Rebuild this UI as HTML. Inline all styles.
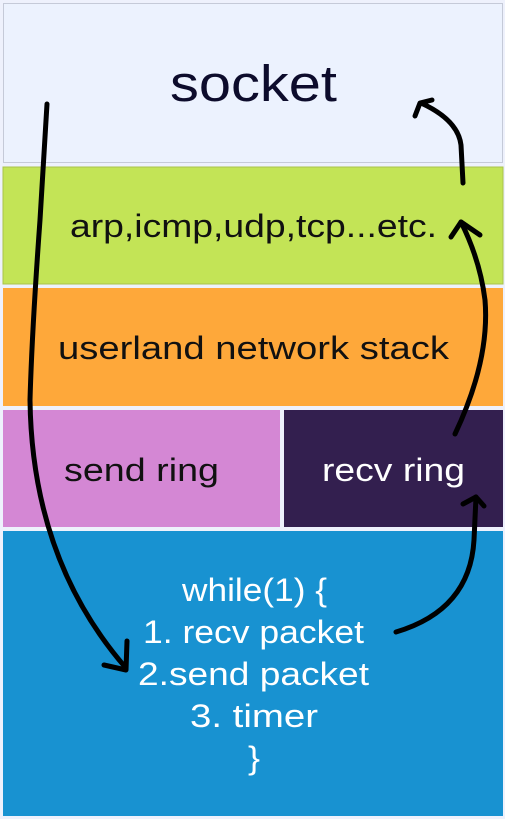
<!DOCTYPE html>
<html><head><meta charset="utf-8"><style>
html,body{margin:0;padding:0;background:#eef1fc;}
svg{display:block}
text{font-family:"Liberation Sans",sans-serif;}
</style></head><body>
<svg width="505" height="819" viewBox="0 0 505 819" xmlns="http://www.w3.org/2000/svg">
<rect x="0" y="0" width="505" height="819" fill="#eef1fc"/>
<rect x="3.5" y="3.5" width="499" height="159" fill="#ecf2fe" stroke="#c5cad8"/>
<rect x="3" y="167" width="500" height="117" fill="#c3e456" stroke="#a9c24c" stroke-width="1"/>
<rect x="3" y="288" width="500" height="118" fill="#fea83a"/>
<rect x="3" y="410" width="277" height="117" fill="#d487d4"/>
<rect x="284" y="410" width="219" height="117" fill="#331f4f"/>
<rect x="3" y="531" width="500" height="285" fill="#1892d1"/>

<text x="170" y="101" font-size="51" fill="#0d0c2c" textLength="167" lengthAdjust="spacingAndGlyphs">socket</text>
<text x="70" y="237" font-size="32" fill="#111" textLength="367" lengthAdjust="spacingAndGlyphs">arp,icmp,udp,tcp...etc.</text>
<text x="58" y="359" font-size="32" fill="#111" textLength="391" lengthAdjust="spacingAndGlyphs">userland network stack</text>
<text x="64" y="481" font-size="32" fill="#111" textLength="155" lengthAdjust="spacingAndGlyphs">send ring</text>
<text x="322" y="481" font-size="32" fill="#fff" textLength="143" lengthAdjust="spacingAndGlyphs">recv ring</text>
<g fill="#fff" font-size="32">
<text x="182" y="601" textLength="145" lengthAdjust="spacingAndGlyphs">while(1) {</text>
<text x="143" y="643" textLength="221" lengthAdjust="spacingAndGlyphs">1. recv packet</text>
<text x="138" y="685" textLength="231" lengthAdjust="spacingAndGlyphs">2.send packet</text>
<text x="190" y="727" textLength="128" lengthAdjust="spacingAndGlyphs">3. timer</text>
<text x="248" y="769" textLength="12" lengthAdjust="spacingAndGlyphs">}</text>
</g>

<g fill="none" stroke="#000" stroke-width="5" stroke-linecap="round" stroke-linejoin="round">
<path d="M47,104 L40,220 Q32,330 30,400 Q32,560 126,668"/>
<path d="M104,665 L126,670 L127,641"/>
<path d="M396,632 Q470,610 474,540 L476,497"/>
<path d="M463,504 L476,497 L484,506"/>
<path d="M455,434 Q490,360 485,300 Q480,260 461,222"/>
<path d="M451,237 L461,222 L480,235"/>
<path d="M463,183 L461,145 Q458,120 421,103"/>
<path d="M415,116 L420,103 L432,100"/>
</g>
</svg>
</body></html>
